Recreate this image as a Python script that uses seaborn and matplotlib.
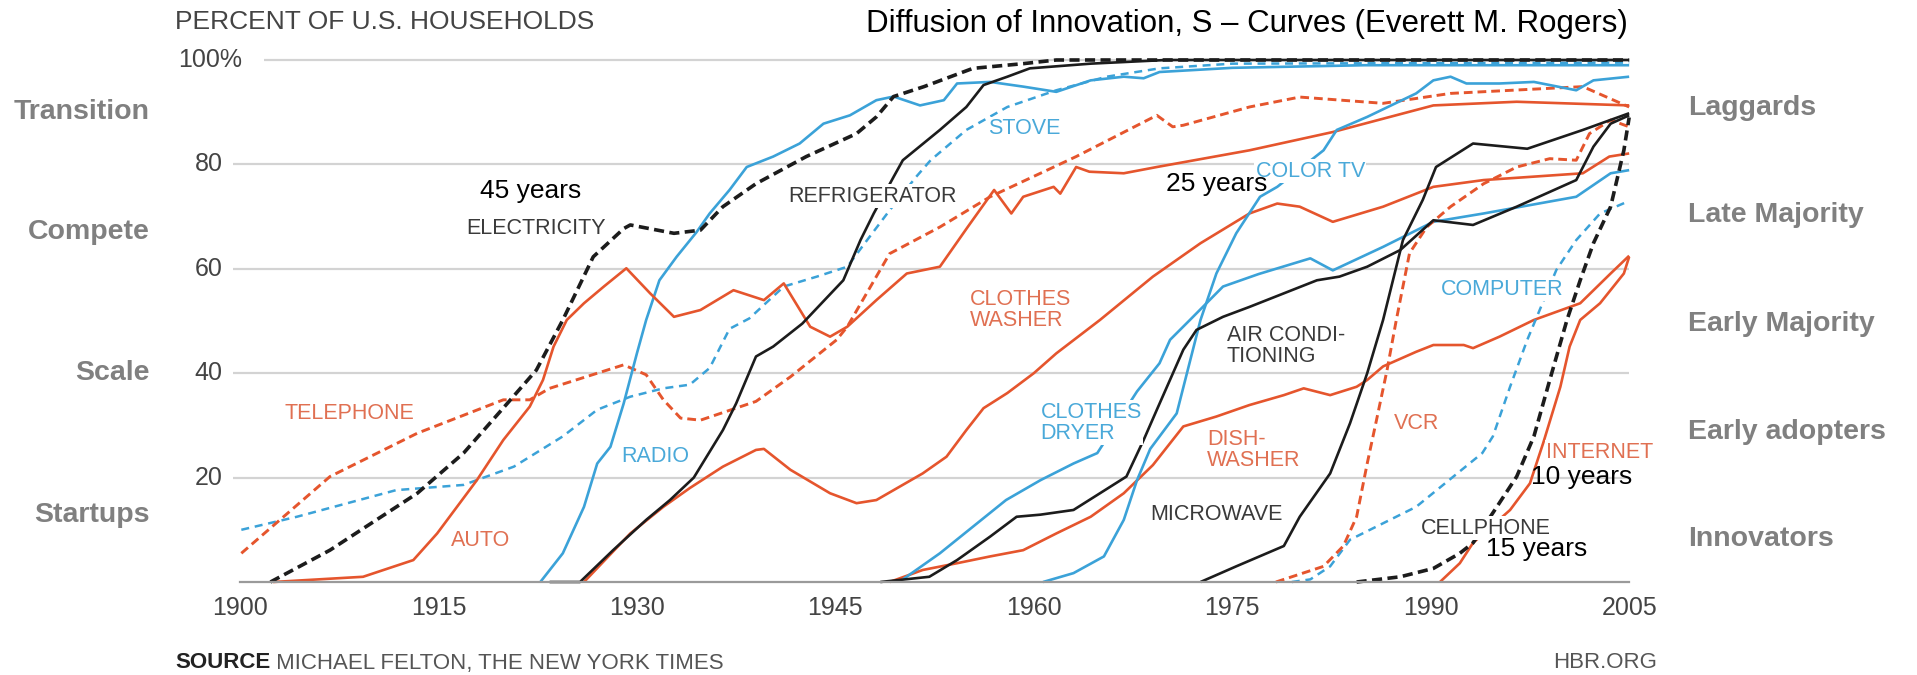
import matplotlib
matplotlib.use("Agg")
import matplotlib.pyplot as plt
import pandas as pd
import seaborn as sns

# ---- data (year, percent of households) ----
electricity_yr = [1902.3, 1906.8, 1913.4, 1916.9, 1920.2, 1922.4, 1924.4, 1926.7, 1929.0, 1929.5, 1932.8, 1934.8,
                  1936.5, 1939.0, 1942.8, 1946.6, 1948.1, 1949.4, 1951.7, 1955.4, 1959.2, 1961.7, 1980, 2005]
electricity_pct = [0, 6.1, 17.0, 24.7, 34.2, 40.6, 50.2, 62.3, 67.7, 68.4, 66.8, 67.4,
                   71.9, 76.3, 81.5, 85.9, 89.1, 93.0, 94.9, 98.4, 99.3, 100, 100, 100]

telephone_yr = [1900.1, 1906.8, 1913.4, 1919.9, 1921.9, 1923.4, 1929.0, 1930.7, 1932.0, 1933.3, 1934.8, 1939.0,
                1941.6, 1945.1, 1945.9, 1949.1, 1952.9, 1956.7, 1963.2, 1969.3, 1970.5, 1971.3, 1976.3, 1980.1,
                1986.4, 1991.5, 2001.5, 2005]
telephone_pct = [5.5, 20.2, 28.5, 34.9, 34.9, 37.1, 41.6, 39.7, 34.9, 31.4, 31.0, 34.6,
                 39.3, 46.4, 48.9, 62.9, 68.0, 73.8, 81.5, 89.4, 87.2, 87.5, 91.0, 92.9,
                 91.7, 93.6, 94.9, 91.0]

auto_yr = [1902.5, 1909.3, 1913.1, 1914.9, 1916.4, 1917.9, 1919.9, 1921.9, 1922.9, 1923.7, 1924.7, 1926.0,
           1927.5, 1929.2, 1931.0, 1932.8, 1934.8, 1937.3, 1939.6, 1941.1, 1943.1, 1944.6, 1945.9, 1948.1,
           1950.4, 1952.9, 1955.0, 1957.0, 1958.3, 1959.2, 1961.5, 1962.0, 1963.2, 1964.2, 1966.8, 1969.3,
           1976.3, 1982.6, 1990.2, 1996.5, 2005]
auto_pct = [0, 1.0, 4.2, 9.3, 14.4, 19.5, 27.2, 33.6, 38.7, 45.1, 50.2, 53.4,
            56.6, 60.1, 55.3, 50.8, 52.1, 55.9, 54.0, 57.2, 48.9, 47.0, 48.9, 54.0,
            59.1, 60.4, 68.0, 75.1, 70.6, 73.8, 75.7, 74.4, 79.5, 78.6, 78.3, 79.5,
            82.7, 86.2, 91.3, 92.0, 91.3]

radio_yr = [1922.7, 1924.4, 1926.0, 1927.0, 1928.0, 1929.0, 1930.0, 1930.7, 1931.7, 1933.0, 1934.5, 1935.5,
            1937.0, 1938.3, 1940.3, 1942.3, 1944.1, 1946.1, 1948.1, 1949.4, 1951.4, 1953.2, 1954.2, 1956.7,
            1959.2, 1961.7, 1964.3, 1966.8, 1968.3, 1969.5, 1975, 1985, 2005]
radio_pct = [0, 5.5, 14.4, 22.7, 25.9, 34.2, 43.8, 50.2, 57.8, 62.3, 67.0, 70.6,
             75.1, 79.5, 81.5, 84.0, 87.8, 89.4, 92.3, 93.0, 91.3, 92.3, 95.5, 95.8,
             94.9, 93.9, 96.1, 96.8, 96.5, 97.7, 98.5, 99.0, 99.0]

refrigerator_yr = [1923.4, 1925.7, 1928.2, 1930.7, 1932.5, 1934.3, 1936.5, 1937.5, 1939.0, 1940.3, 1942.5, 1945.6,
                   1946.9, 1947.9, 1949.4, 1950.1, 1952.9, 1954.9, 1956.2, 1958.0, 1959.7, 1964.3, 1970, 2005]
refrigerator_pct = [0, 0, 6.1, 11.9, 15.7, 20.0, 29.1, 34.2, 43.2, 45.1, 49.5, 57.8,
                    65.5, 70.6, 77.6, 80.8, 86.6, 91.0, 95.2, 96.8, 98.4, 99.3, 100, 100]

stove_yr = [1900.1, 1904.3, 1911.8, 1916.9, 1920.7, 1924.4, 1927.0, 1929.5, 1932.0, 1934.0, 1935.5, 1937.0,
            1938.5, 1941.1, 1943.6, 1945.9, 1947.4, 1949.1, 1951.1, 1952.2, 1954.9, 1958.0, 1961.7, 1965.5,
            1969.5, 1975, 2005]
stove_pct = [10.0, 12.5, 17.6, 18.6, 22.1, 27.9, 33.0, 35.5, 37.1, 37.8, 41.0, 48.5,
             50.5, 56.6, 58.5, 60.4, 65.5, 71.2, 77.6, 80.8, 86.6, 91.0, 94.2, 96.8,
             98.4, 99.3, 99.5]

washer_yr = [1926.0, 1929.5, 1932.0, 1934.0, 1936.5, 1939.0, 1939.6, 1941.6, 1944.6, 1946.6, 1948.1, 1951.6,
             1953.4, 1954.9, 1956.2, 1958.0, 1960.0, 1961.7, 1965.0, 1969.0, 1972.6, 1976.3, 1978.4, 1980.1,
             1982.6, 1986.4, 1990.2, 1994.0, 2001.5, 2003.5, 2005]
washer_pct = [0, 9.3, 14.4, 18.0, 22.1, 25.3, 25.5, 21.5, 17.0, 15.1, 15.7, 20.8,
              24.0, 29.1, 33.3, 36.2, 40.0, 43.8, 50.2, 58.5, 64.9, 70.6, 72.5, 71.9,
              69.0, 71.9, 75.7, 77.0, 78.3, 81.5, 82.1]

dishwasher_yr = [1949.1, 1951.6, 1954.2, 1956.7, 1959.2, 1961.7, 1964.3, 1966.8, 1969.0, 1971.3, 1973.8, 1976.3,
                 1978.9, 1980.4, 1982.4, 1984.4, 1985.2, 1986.4, 1988.9, 1990.2, 1992.5, 1993.2, 1995.2, 1997.8,
                 2001.3, 2003.6, 2005]
dishwasher_pct = [0, 2.3, 3.6, 4.9, 6.1, 9.3, 12.5, 17.0, 22.4, 29.8, 31.7, 33.9,
                  35.8, 37.1, 35.8, 37.4, 38.7, 41.3, 44.1, 45.4, 45.4, 44.8, 47.0, 50.2,
                  53.4, 59.1, 62.5]

aircon_yr = [1948.4, 1952.1, 1954.2, 1956.7, 1958.7, 1960.5, 1963.0, 1965.0, 1967.0, 1968.3, 1969.3, 1971.3,
             1972.3, 1974.3, 1976.3, 1978.9, 1981.4, 1983.1, 1985.2, 1987.7, 1990.2, 1993.2, 1996.5, 2001.0,
             2002.3, 2003.6, 2005]
aircon_pct = [0, 1.0, 4.2, 8.7, 12.5, 12.9, 13.8, 17.0, 20.2, 27.2, 33.0, 44.5,
              48.3, 50.8, 52.7, 55.3, 57.8, 58.5, 60.4, 63.6, 69.3, 68.4, 71.9, 77.0,
              83.4, 87.8, 89.4]

dryer_yr = [1950.1, 1952.9, 1955.4, 1957.9, 1960.5, 1963.0, 1964.8, 1967.8, 1969.5, 1970.3, 1971.8, 1974.3,
            1977.0, 1980.9, 1982.6, 1986.4, 1990.2, 1994.0, 2001.0, 2003.6, 2005]
dryer_pct = [0.5, 5.5, 10.6, 15.7, 19.5, 22.7, 24.7, 36.5, 41.9, 46.4, 50.2, 56.6,
             59.0, 62.0, 59.7, 64.2, 69.0, 70.6, 73.8, 78.3, 78.9]

colortv_yr = [1960.7, 1963.0, 1965.3, 1966.8, 1967.8, 1968.8, 1970.8, 1972.6, 1973.8, 1975.3, 1977.1, 1978.4,
              1981.9, 1982.9, 1985.2, 1988.9, 1990.2, 1991.5, 1992.7, 1995.2, 1997.8, 2001.0, 2002.3, 2005]
colortv_pct = [0, 1.7, 4.9, 11.9, 19.5, 25.5, 32.3, 50.2, 59.1, 66.8, 73.8, 75.7,
               82.7, 86.6, 89.1, 93.6, 96.1, 96.8, 95.5, 95.5, 95.8, 94.2, 96.1, 96.8]

microwave_yr = [1972.6, 1975.3, 1978.9, 1980.1, 1982.4, 1983.9, 1985.2, 1986.4, 1987.9, 1989.4, 1990.4, 1993.2,
                1997.3, 2001.5, 2005]
microwave_pct = [0, 3.0, 6.9, 12.5, 20.8, 30.4, 40.0, 50.2, 65.5, 73.2, 79.5, 84.0,
                 83.0, 86.6, 89.8]

vcr_yr = [1978.3, 1981.9, 1983.4, 1984.4, 1985.2, 1985.9, 1986.7, 1987.4, 1988.4, 1989.7, 1991.5, 1994.0,
          1996.5, 1999.0, 2001.0, 2002.0, 2003.6, 2005]
vcr_pct = [0, 3.0, 6.9, 12.5, 22.7, 31.0, 40.6, 50.2, 63.0, 68.0, 71.9, 76.3,
           79.5, 81.1, 80.8, 85.9, 88.5, 87.2]

computer_yr = [1979.5, 1980.9, 1982.4, 1983.9, 1988.9, 1993.9, 1994.7, 1996.0, 1997.3, 1999.5, 2001.0, 2002.8, 2005]
computer_pct = [0, 0.5, 3.0, 8.1, 14.4, 24.7, 27.9, 37.4, 46.4, 59.8, 65.5, 70.6, 73.0]

cellphone_yr = [1984.4, 1987.7, 1990.2, 1992.2, 1993.2, 1995.0, 1996.5, 1997.8, 1999.0, 2000.3, 2001.3, 2002.3,
                2003.6, 2004.6, 2005]
cellphone_pct = [0, 1.0, 2.6, 5.5, 7.5, 14.4, 20.2, 27.9, 38.7, 50.2, 57.8, 64.9,
                 71.9, 82.7, 89.0]

internet_yr = [1990.7, 1992.2, 1993.2, 1996.0, 1997.5, 1998.5, 1999.8, 2000.5, 2001.3, 2002.8, 2004.6, 2005]
internet_pct = [0, 3.6, 7.5, 13.8, 18.9, 26.6, 37.4, 45.1, 50.2, 53.4, 59.1, 62.3]

grid_vals = [20, 40, 60, 80, 100]
x_ticks = [1900, 1915, 1930, 1945, 1960, 1975, 1990, 2005]
left_stages = ["Transition", "Compete", "Scale", "Startups"]
right_stages = ["Laggards", "Late Majority", "Early Majority", "Early adopters", "Innovators"]

RED, BLUE, BLACK = "#e5552d", "#3ba2d8", "#1c1c1c"
RED_T, BLUE_T, DARK_T = "#e07052", "#4aa9d9", "#3a3a3a"

# name, years, values, colour, kind
series = [
    ("stove", stove_yr, stove_pct, BLUE, "dash_b"),
    ("telephone", telephone_yr, telephone_pct, RED, "dash_r"),
    ("radio", radio_yr, radio_pct, BLUE, "solid"),
    ("auto", auto_yr, auto_pct, RED, "solid"),
    ("washer", washer_yr, washer_pct, RED, "solid"),
    ("dishwasher", dishwasher_yr, dishwasher_pct, RED, "solid"),
    ("dryer", dryer_yr, dryer_pct, BLUE, "solid"),
    ("colortv", colortv_yr, colortv_pct, BLUE, "solid"),
    ("computer", computer_yr, computer_pct, BLUE, "dash_b"),
    ("vcr", vcr_yr, vcr_pct, RED, "dash_r"),
    ("internet", internet_yr, internet_pct, RED, "solid"),
    ("aircon", aircon_yr, aircon_pct, BLACK, "solid"),
    ("microwave", microwave_yr, microwave_pct, BLACK, "solid"),
    ("refrigerator", refrigerator_yr, refrigerator_pct, BLACK, "solid"),
    ("cellphone", cellphone_yr, cellphone_pct, BLACK, "dash_k"),
    ("electricity", electricity_yr, electricity_pct, BLACK, "dash_k"),
]
line_kw = {
    "solid": dict(linewidth=1.9, linestyle="-"),
    "dash_r": dict(linewidth=2.1, linestyle=(0, (3.0, 1.7))),
    "dash_b": dict(linewidth=1.8, linestyle=(0, (3.2, 2.3))),
    "dash_k": dict(linewidth=2.6, linestyle=(0, (2.8, 1.5))),
}

sns.set_style("white")
plt.rcParams["font.family"] = ["Liberation Sans", "DejaVu Sans"]

W, H = 1917, 675
fig = plt.figure(figsize=(W / 100, H / 100), dpi=100)
ax = fig.add_axes([0.11830, 0.13004, 0.73845, 0.79654])
ax.set_xlim(1899, 2006)
ax.set_ylim(-1, 102)

# gridlines
ax.hlines(grid_vals[:-1], 1899.5, 2005, color="#d3d3d3", linewidth=1.6, zorder=0)
ax.hlines(grid_vals[-1], 1901.8, 2005, color="#d3d3d3", linewidth=1.6, zorder=0)

for name, yrs, vals, col, kind in series:
    sns.lineplot(x=yrs, y=vals, color=col, ax=ax, sort=False, estimator=None,
                 solid_capstyle="butt", dash_capstyle="butt", **line_kw[kind])

# axes styling
for s in ["top", "right", "left"]:
    ax.spines[s].set_visible(False)
ax.spines["bottom"].set_position(("data", 0))
ax.spines["bottom"].set_bounds(1900, 2005)
ax.spines["bottom"].set_color("#9a9a9a")
ax.spines["bottom"].set_linewidth(1.6)
ax.set_xticks(x_ticks)
ax.set_xticklabels([str(t) for t in x_ticks])
ax.tick_params(axis="x", direction="in", length=12, width=1.6, color="#9a9a9a",
               pad=10, labelsize=18, labelcolor="#444444")
ax.set_yticks([])
ax.set_xlabel("")
ax.set_ylabel("")

# y labels
for v in grid_vals:
    if v == 100:
        ax.text(1895.3, v, "100%", ha="left", va="center", fontsize=18, color="#444444")
    else:
        ax.text(1898.7, v, str(v), ha="right", va="center", fontsize=18, color="#444444")

# series labels
box = dict(facecolor="white", edgecolor="none", pad=1.0)
labels = [
    ("ELECTRICITY", 1922.4, 67.8, DARK_T, "center"),
    ("TELEPHONE", 1908.3, 32.2, RED_T, "center"),
    ("AUTO", 1918.2, 7.9, RED_T, "center"),
    ("RADIO", 1931.4, 24.1, BLUE_T, "center"),
    ("REFRIGERATOR", 1947.8, 73.9, DARK_T, "center"),
    ("STOVE", 1959.3, 86.8, BLUE_T, "center"),
    ("CLOTHES\nWASHER", 1955.2, 52.1, RED_T, "left"),
    ("COLOR TV", 1980.9, 78.7, BLUE_T, "center"),
    ("COMPUTER", 1995.4, 56.1, BLUE_T, "center"),
    ("AIR CONDI-\nTIONING", 1974.6, 45.2, DARK_T, "left"),
    ("CLOTHES\nDRYER", 1960.5, 30.5, BLUE_T, "left"),
    ("DISH-\nWASHER", 1973.1, 25.3, RED_T, "left"),
    ("VCR", 1988.9, 30.3, RED_T, "center"),
    ("MICROWAVE", 1973.8, 13.0, DARK_T, "center"),
    ("CELLPHONE", 1994.2, 10.3, DARK_T, "center"),
    ("INTERNET", 2002.8, 24.9, RED_T, "center"),
]
for txt, x, y, c, ha in labels:
    ax.text(x, y, txt, ha=ha, va="center", fontsize=15.5, color=c, linespacing=1.0,
            bbox=box, zorder=5)

years_notes = [("45 years", 1922.0, 74.9), ("25 years", 1973.8, 76.2),
               ("15 years", 1998.0, 6.3), ("10 years", 2001.4, 20.1)]
for txt, x, y in years_notes:
    ax.text(x, y, txt, ha="center", va="center", fontsize=19, color="black", zorder=6)

# figure texts
def fx(px):
    return px / W


def fy(py):
    return 1 - py / H


fig.text(fx(175), fy(22), "PERCENT OF U.S. HOUSEHOLDS", ha="left", va="center",
         fontsize=19, color="#444444")
fig.text(fx(1628), fy(24), "Diffusion of Innovation, S \u2013 Curves (Everett M. Rogers)",
         ha="right", va="center", fontsize=22.5, color="black")

for txt, py in zip(left_stages, [112, 232, 373, 515]):
    fig.text(fx(150), fy(py), txt, ha="right", va="center", fontsize=20.5,
             fontweight="bold", color="#808080")
for txt, py in zip(right_stages, [108, 215, 324, 432, 539]):
    fig.text(fx(1688), fy(py), txt, ha="left", va="center", fontsize=20.5,
             fontweight="bold", color="#808080")

src = fig.text(fx(175), fy(663), "SOURCE", ha="left", va="center", fontsize=16,
               fontweight="bold", color="#222222")
ax.annotate(" MICHAEL FELTON, THE NEW YORK TIMES", xy=(1, 0.5), xycoords=src,
            ha="left", va="center", fontsize=16, color="#555555", annotation_clip=False)
fig.text(fx(1657), fy(663), "HBR.ORG", ha="right", va="center", fontsize=16, color="#555555")

fig.savefig("out.png", dpi=100, facecolor="white")
